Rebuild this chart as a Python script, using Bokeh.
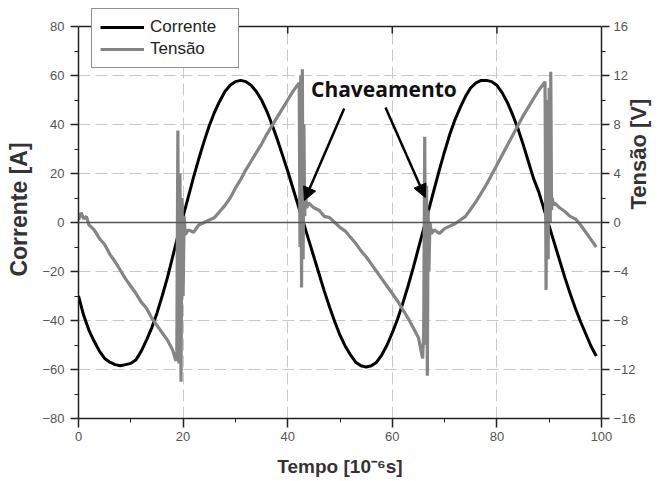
import math
from bokeh.plotting import figure
from bokeh.models import (Range1d, LinearAxis, SingleIntervalTicker, Span, Label, BoxAnnotation,
                          Arrow, NormalHead, Legend, LegendItem, ColumnDataSource)
from bokeh.embed import file_html
from bokeh.resources import INLINE

# ---------------- data ----------------
tempo_corrente = list(range(0, 100))
corrente = [-30, -38, -44, -48.5, -52.5, -55.5, -57, -58, -58.5, -58,
            -57.5, -56, -52.5, -48, -43, -37, -30, -22.5, -14, -5.5,
            2.5, 10.5, 18.5, 26, 33, 39.5, 45, 49.5, 53.5, 56,
            57.5, 58, 57.5, 56, 53.5, 50, 45.5, 40, 34, 27.5,
            21, 14, 7, 0, -7, -14, -21, -28, -34.5, -40.5,
            -46, -50.5, -54, -57, -58.5, -59, -58.5, -57, -54, -50,
            -45, -39.5, -33, -26, -18.5, -10.5, -2.5, 5.5, 13.5, 21.5,
            29, 36, 42, 47, 51.5, 55, 57, 58, 58, 57.5,
            56, 53, 49, 44, 38.5, 32, 25, 18, 12.5, 5.5,
            -1.5, -8.5, -15.5, -22.5, -29, -35, -40.5, -45.5, -50.5, -54.5]

tempo_tensao = [0, 0.5, 1, 1.5, 2, 3, 4, 5, 6, 7, 8, 9, 10, 11, 12, 13, 14, 15, 16, 17, 18, 18.6,
                18.8, 19.0, 19.2, 19.4, 19.6, 19.8, 20.0, 20.2, 20.4,
                21, 22, 23, 24, 25, 26, 27, 28, 29, 30, 31, 32, 33, 34, 35, 36, 37, 38, 39, 40, 41, 42.2,
                42.35, 42.5, 42.65, 42.8, 42.95, 43.1, 43.25, 43.4, 43.6,
                44, 45, 46, 47, 48, 49, 50, 51, 52, 53, 54, 55, 56, 57, 58, 59, 60, 61, 62, 63, 64, 65, 65.8,
                66.0, 66.2, 66.4, 66.55, 66.7, 66.85, 67.0, 67.2, 67.5,
                68, 69, 70, 71, 72, 73, 74, 75, 76, 77, 78, 79, 80, 81, 82, 83, 84, 85, 86, 87, 88, 89.2,
                89.4, 89.6, 89.8, 90.0, 90.2, 90.3, 90.45, 90.6, 90.8,
                91, 92, 93, 94, 95, 96, 97, 98, 99]
tensao = [0.2, 0.8, 0.3, 0.5, -0.2, -0.6, -1.3, -1.8, -2.6, -3.2, -3.9, -4.6, -5.2, -5.8, -6.5, -7.0, -7.8, -8.4, -9.0, -9.6, -10.4, -11.3,
          -10.5, 7.5, -11.5, 4.0, -13.0, 2.0, -6.0, 0.5, -1.0,
          -0.6, -0.8, -0.2, 0.0, 0.2, 0.4, 0.9, 1.4, 2.0, 2.8, 3.5, 4.3, 5.0, 5.7, 6.4, 7.2, 7.9, 8.6, 9.3, 10.0, 10.7, 11.4,
          -2.0, 12.0, -5.3, 12.5, -3.0, 8.0, 0.5, 2.5, 1.2,
          1.6, 1.2, 1.0, 0.5, 0.4, 0.0, -0.4, -0.7, -1.2, -1.7, -2.3, -2.8, -3.4, -4.0, -4.6, -5.2, -5.8, -6.4, -7.1, -7.8, -8.6, -9.4, -11.1,
          -9.0, 7.0, -10.0, 3.0, -12.5, 1.0, -4.0, 0.0, -0.9,
          -0.6, -0.9, -0.5, -0.3, -0.1, 0.2, 0.5, 1.1, 1.7, 2.4, 3.1, 3.9, 4.7, 5.5, 6.3, 7.1, 7.9, 8.7, 9.4, 10.1, 10.8, 11.5,
          -5.5, 10.0, -3.0, 11.0, 0.0, 12.3, 1.0, 2.0, 1.4,
          1.6, 1.2, 0.9, 0.5, 0.3, -0.2, -0.8, -1.4, -2.0]

x_ticks = [0, 20, 40, 60, 80, 100]
corrente_bounds = (-80, 80)
tensao_bounds = (-16, 16)
series_labels = ["Corrente", "Tensão"]
axis_titles = ["Tempo [10⁻⁶s]", "Corrente [A]", "Tensão [V]"]
annotation_text = "Chaveamento"
# annotation anchor points (time / current units)
text_pos = (58.4, 54.3)
arrow_left = (50.8, 46.5, 43.2, 9.0)
arrow_right = (58.7, 46.9, 66.3, 10.2)

# ---------------- layout ----------------
W, H = 666, 481
B_LEFT, B_RIGHT, B_BOTTOM = 78, 62, 63
TOP_GAP = 26                     # space above the y=80 line, kept inside the frame (legend lives there)
frame_h_data = H - B_BOTTOM - TOP_GAP
ppu_i = frame_h_data / (corrente_bounds[1] - corrente_bounds[0])
ppu_v = frame_h_data / (tensao_bounds[1] - tensao_bounds[0])

p = figure(width=W, height=H, output_backend="svg", toolbar_location=None,
           x_range=Range1d(x_ticks[0], x_ticks[-1]),
           y_range=Range1d(corrente_bounds[0], corrente_bounds[1] + TOP_GAP / ppu_i),
           min_border_left=B_LEFT, min_border_right=B_RIGHT, min_border_top=0,
           min_border_bottom=B_BOTTOM,
           background_fill_color="white", border_fill_color="white")
p.extra_y_ranges = {"v": Range1d(tensao_bounds[0], tensao_bounds[1] + TOP_GAP / ppu_v)}
p.outline_line_color = None

AX = "#222222"
TICK_FONT = "Liberation Sans"


def style_axis(ax, tick_out, label_standoff, title_size):
    ax.axis_line_color = AX
    ax.axis_line_width = 1.5
    ax.major_tick_line_color = AX
    ax.major_tick_line_width = 1.5
    ax.minor_tick_line_color = AX
    ax.minor_tick_line_width = 1
    ax.major_tick_in = 0
    ax.major_tick_out = tick_out
    ax.minor_tick_in = 0
    ax.minor_tick_out = 4
    ax.major_label_standoff = label_standoff
    ax.major_label_text_font = TICK_FONT
    ax.major_label_text_font_size = "13px"
    ax.major_label_text_color = "#555555"
    ax.axis_label_text_font = "Liberation Sans"
    ax.axis_label_text_font_style = "bold"
    ax.axis_label_text_font_size = title_size
    ax.axis_label_text_color = "#333333"


xa = p.xaxis[0]
xa.ticker = SingleIntervalTicker(interval=x_ticks[1] - x_ticks[0], num_minor_ticks=2)
style_axis(xa, 9, 4, "19px")
xa.axis_label = axis_titles[0]
xa.axis_label_standoff = 12

ya = p.yaxis[0]
ya.ticker = SingleIntervalTicker(interval=20, num_minor_ticks=2)
ya.bounds = corrente_bounds
style_axis(ya, 8, 6, "23px")
ya.axis_label = axis_titles[1]
ya.axis_label_standoff = 7

right = LinearAxis(y_range_name="v", ticker=SingleIntervalTicker(interval=4, num_minor_ticks=2))
right.bounds = tensao_bounds
style_axis(right, 8, 4, "22px")
right.axis_label = axis_titles[2]
right.axis_label_standoff = 0
if "axis_label_orientation" in right.properties():
    right.axis_label_orientation = math.pi / 2
p.add_layout(right, "right")

for g in (p.xgrid[0], p.ygrid[0]):
    g.grid_line_color = "#c8c8c8"
    g.grid_line_width = 1
    g.grid_line_dash = "12 5"
p.xgrid[0].ticker = xa.ticker
p.ygrid[0].ticker = ya.ticker

# white cover above the top border (hides grid there), top border, zero line
p.add_layout(BoxAnnotation(bottom=corrente_bounds[1], fill_color="white", fill_alpha=1,
                           line_color=None))
p.add_layout(Span(location=corrente_bounds[1], dimension="width", line_color=AX, line_width=1.5))
p.add_layout(Span(location=0, dimension="width", line_color="#555555", line_width=1.5))

# inward ticks on the top border
top_x = x_ticks[1:-1]
p.segment(x0=top_x, x1=top_x, y0=[corrente_bounds[1]] * len(top_x),
          y1=[corrente_bounds[1] - 7 / ppu_i] * len(top_x), line_color=AX, line_width=1.5)

src_i = ColumnDataSource(dict(t=tempo_corrente, v=corrente))
src_v = ColumnDataSource(dict(t=tempo_tensao, v=tensao))
r1 = p.line("t", "v", source=src_i, line_color="black", line_width=3)
r2 = p.line("t", "v", source=src_v, line_color="#858585", line_width=3.2, y_range_name="v")

# annotation
p.add_layout(Label(x=text_pos[0], y=text_pos[1], text=annotation_text,
                   text_font="Open Sans", text_font_style="bold", text_font_size="21px",
                   text_color="#111111", text_align="center", text_baseline="middle"))
for (xs, ys, xe, ye) in (arrow_left, arrow_right):
    p.add_layout(Arrow(x_start=xs, y_start=ys, x_end=xe, y_end=ye,
                       line_color="black", line_width=2.5,
                       end=NormalHead(size=13, fill_color="black", line_color="black")))

legend = Legend(items=[LegendItem(label=series_labels[0], renderers=[r1]),
                       LegendItem(label=series_labels[1], renderers=[r2])],
                location=(13, 350), margin=0, padding=8, spacing=2,
                glyph_width=44, glyph_height=20, label_height=20, label_width=80,
                label_standoff=6, label_text_font="Liberation Sans",
                label_text_font_size="17px", label_text_color="#222222",
                border_line_color="#222222", border_line_width=1,
                background_fill_color="white", background_fill_alpha=1)
p.add_layout(legend)

open("out.html", "w").write(file_html(p, INLINE))
